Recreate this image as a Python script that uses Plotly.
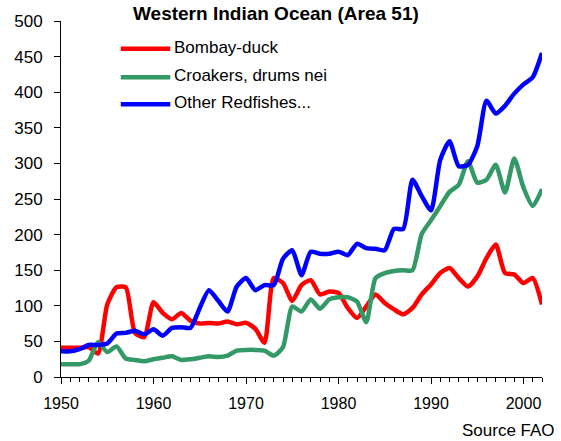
import plotly.graph_objects as go

# Catches in the Western Indian Ocean (thousand tonnes), 1950-2002
years = list(range(1950, 2003))

bombay_duck = [41, 41, 41, 42, 33, 102, 126, 126, 62, 56, 105, 90, 81, 90, 79, 75, 76, 75,
               78, 74, 76, 68, 48, 139, 132, 107, 129, 136, 116, 120, 118, 97, 83, 99, 116,
               104, 95, 88, 97, 116, 130, 146, 153, 139, 127, 141, 167, 186, 146, 144, 132,
               139, 102]

croakers = [18, 18, 18, 23, 49, 35, 43, 26, 24, 22, 25, 27, 29, 24, 25, 27, 29, 28,
            30, 37, 38, 38, 37, 30, 42, 99, 92, 109, 96, 109, 112, 112, 106, 77, 139,
            146, 149, 150, 150, 201, 220, 240, 260, 270, 303, 273, 277, 298, 259, 307,
            266, 240, 264]

redfishes = [36, 36, 39, 45, 45, 47, 61, 62, 65, 60, 67, 58, 69, 70, 69, 97, 122, 107,
             92, 127, 139, 122, 129, 129, 166, 178, 143, 176, 173, 173, 176, 171, 187,
             181, 180, 178, 208, 208, 277, 254, 234, 305, 331, 296, 298, 324, 388, 370,
             381, 398, 411, 421, 455]

series_names = ["Bombay-duck", "Croakers, drums nei", "Other Redfishes..."]
series_values = [bombay_duck, croakers, redfishes]
series_colors = ["#FF0000", "#339966", "#0000FF"]

title_text = "Western Indian Ocean (Area 51)"
source_text = "Source FAO"

FONT = "Arial, 'Liberation Sans', sans-serif"

fig = go.Figure()
for name, vals, col in zip(series_names, series_values, series_colors):
    fig.add_trace(go.Scatter(
        x=years, y=vals, name=name, mode="lines",
        line=dict(color=col, width=4.5, shape="spline", smoothing=0.6),
        showlegend=False,
    ))

# Legend drawn as short line samples with labels, in paper coordinates
leg_y = [0.9224, 0.8420, 0.7660]
for name, col, ly in zip(series_names, series_colors, leg_y):
    fig.add_shape(type="line", xref="paper", yref="paper",
                  x0=0.1243, x1=0.2272, y0=ly, y1=ly,
                  line=dict(color=col, width=4.5))
    fig.add_annotation(text=name, xref="paper", yref="paper",
                       x=0.2330, y=ly + 0.004, xanchor="left", yanchor="middle",
                       showarrow=False, borderpad=0,
                       font=dict(family=FONT, size=17, color="black"))

fig.add_annotation(text="<b>" + title_text + "</b>", xref="paper", yref="paper",
                   x=(276 - 60.7) / 481.1, y=1.021, xanchor="center", yanchor="middle",
                   showarrow=False, borderpad=0,
                   font=dict(family=FONT, size=19, color="black"))

fig.add_annotation(text=source_text, xref="paper", yref="paper",
                   x=1.0295, y=-0.150, xanchor="right", yanchor="middle",
                   showarrow=False, borderpad=0,
                   font=dict(family=FONT, size=17, color="black"))

fig.update_layout(
    width=561, height=441,
    margin=dict(l=61, r=19, t=16, b=64),
    paper_bgcolor="white", plot_bgcolor="white",
    font=dict(family=FONT, size=16, color="black"),
    xaxis=dict(
        range=[1950, 2002], tickmode="linear", tick0=1950, dtick=10,
        showgrid=False, zeroline=False, showline=True, linecolor="black", linewidth=1,
        ticks="outside", ticklen=6, tickcolor="black", tickwidth=1,
        ticklabelstandoff=6,
        minor=dict(dtick=1, ticks="outside", ticklen=4, tickcolor="black", showgrid=False),
        tickfont=dict(family=FONT, size=16),
    ),
    yaxis=dict(
        range=[0, 500], tickmode="linear", tick0=0, dtick=50,
        showgrid=False, zeroline=False, showline=True, linecolor="black", linewidth=1,
        ticks="outside", ticklen=6, tickcolor="black", tickwidth=1,
        ticklabelstandoff=8,
        tickfont=dict(family=FONT, size=17),
    ),
)

fig.write_html("out.html")
